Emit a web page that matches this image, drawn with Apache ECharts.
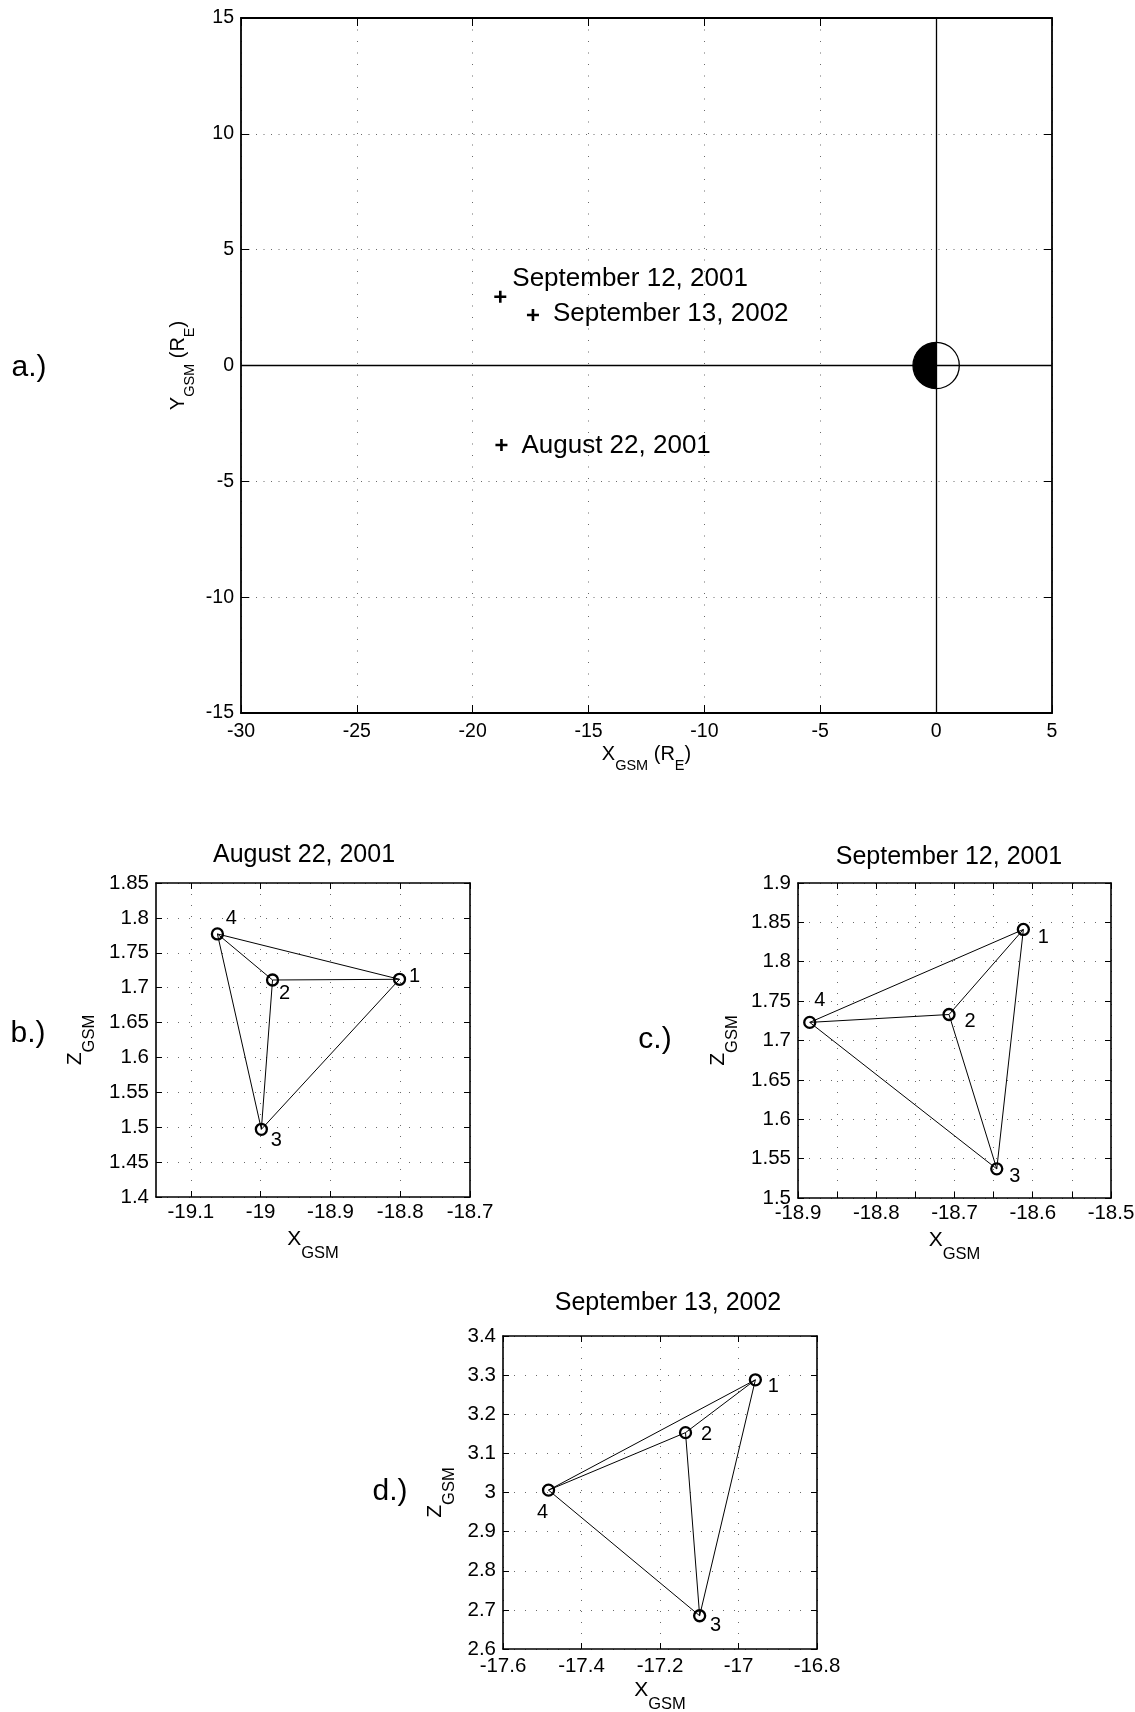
<!DOCTYPE html>
<html>
<head>
<meta charset="utf-8">
<title>Cluster tetrahedron configurations</title>
<script src="https://cdn.jsdelivr.net/npm/echarts@6/dist/echarts.min.js"></script>
<style>
  html, body { margin: 0; padding: 0; background: #fff; }
  #chart { width: 1135px; height: 1712px; }
</style>
</head>
<body>
<div id="chart"></div>
<script>
// ---------- Panel a: event locations in the GSM X-Y plane (R_E) ----------
const eventNames = ['September 12, 2001', 'September 13, 2002', 'August 22, 2001'];
const eventX = [-18.81, -17.40, -18.76];
const eventY = [2.97, 2.18, -3.43];
const earth = [[0, 0, 1]];               // centre x, centre y, radius (R_E)

// ---------- Panels b-d: spacecraft 1-4 in the GSM X-Z plane ----------
const craftLabels = ['1', '2', '3', '4'];
const aug22X = [-18.801, -18.983, -18.999, -19.062];
const aug22Z = [1.712, 1.711, 1.497, 1.777];
const sep12X = [-18.612, -18.707, -18.646, -18.885];
const sep12Z = [1.841, 1.733, 1.537, 1.723];
const sep13X = [-16.957, -17.135, -17.099, -17.484];
const sep13Z = [3.288, 3.153, 2.685, 3.006];
// every pair of spacecraft is joined (tetrahedron edges)
const tetraEdges = [[0, 1], [0, 2], [0, 3], [1, 2], [1, 3], [2, 3]];

// ---------- tick values ----------
const aXTicks = [-30, -25, -20, -15, -10, -5, 0, 5];
const aYTicks = [-15, -10, -5, 0, 5, 10, 15];
const bXTicks = [-19.1, -19, -18.9, -18.8, -18.7];
const bZTicks = [1.4, 1.45, 1.5, 1.55, 1.6, 1.65, 1.7, 1.75, 1.8, 1.85];
const cXTicks = [-18.9, -18.85, -18.8, -18.75, -18.7, -18.65, -18.6, -18.55, -18.5];
const cXLabels = [-18.9, -18.8, -18.7, -18.6, -18.5];
const cZTicks = [1.5, 1.55, 1.6, 1.65, 1.7, 1.75, 1.8, 1.85, 1.9];
const dXTicks = [-17.6, -17.4, -17.2, -17, -16.8];
const dZTicks = [2.6, 2.7, 2.8, 2.9, 3, 3.1, 3.2, 3.3, 3.4];

// ---------- layout & style ----------
const FONT = "'Liberation Sans', Arial, Helvetica, sans-serif";
const fmt = v => String(+(+v).toFixed(2));
const PLUS = 'path://M4.7,0H7.3V4.7H12V7.3H7.3V12H4.7V7.3H0V4.7H4.7Z';

const grids = [
  { left: 241, top: 18, width: 811, height: 695 },    // a
  { left: 156, top: 883, width: 314, height: 314 },   // b
  { left: 798, top: 883, width: 313, height: 315 },   // c
  { left: 503, top: 1336, width: 314, height: 313 }   // d
];

function nameStyle(main, sub, drop) {
  return {
    fontFamily: FONT, color: '#000',
    rich: {
      m: { fontFamily: FONT, color: '#000', fontSize: main, lineHeight: main },
      s: { fontFamily: FONT, color: '#000', fontSize: sub, lineHeight: main, padding: [drop * 2, 0, 0, 0] }
    }
  };
}

function axisPair(kind, gridIndex, cfg) {
  const make = (primary) => {
    const ax = {
      type: 'value', gridIndex: gridIndex,
      min: cfg.min, max: cfg.max,
      position: kind === 'x' ? (primary ? 'bottom' : 'top') : (primary ? 'left' : 'right'),
      axisLine: { show: true, onZero: false, lineStyle: { color: '#000', width: cfg.box } },
      axisTick: { show: true, inside: true, length: cfg.tickLen, customValues: cfg.ticks,
                  lineStyle: { color: '#000', width: 1 } },
      axisLabel: { show: false },
      splitLine: { show: false },
      axisPointer: { show: false }
    };
    if (primary) {
      ax.axisLabel = {
        show: true, margin: cfg.labelMargin, fontSize: cfg.labelSize, fontFamily: FONT,
        color: '#000', formatter: fmt, customValues: cfg.labels || cfg.ticks,
        showMinLabel: true, showMaxLabel: true, hideOverlap: false
      };
      ax.splitLine = { show: true, lineStyle: { color: '#6a6a6a', width: 1, type: cfg.dash } };
      ax.name = cfg.name;
      ax.nameLocation = 'middle';
      ax.nameGap = cfg.nameGap;
      ax.nameMoveOverlap = false;
      ax.nameRotate = kind === 'y' ? 90 : 0;
      ax.nameTextStyle = cfg.nameStyle;
    }
    return ax;
  };
  return [make(true), make(false)];
}

const mainName = nameStyle(20, 14.5, 12);
const subName = nameStyle(21, 16.5, 14);
const xAxes = [].concat(
  axisPair('x', 0, { min: -30, max: 5, ticks: aXTicks, box: 1.8, tickLen: 8, labelMargin: 9, labelSize: 19.5,
    dash: [1, 10.5], name: '{m|X}{s|GSM}{m| (R}{s|E}{m|)}', nameGap: 31, nameStyle: mainName }),
  axisPair('x', 1, { min: -19.15, max: -18.7, ticks: bXTicks, box: 1.6, tickLen: 6, labelMargin: 5, labelSize: 20.5,
    dash: [1, 10], name: '{m|X}{s|GSM}', nameGap: 32, nameStyle: subName }),
  axisPair('x', 2, { min: -18.9, max: -18.5, ticks: cXTicks, labels: cXLabels, box: 1.6, tickLen: 6, labelMargin: 5,
    labelSize: 20.5, dash: [1, 10], name: '{m|X}{s|GSM}', nameGap: 32, nameStyle: subName }),
  axisPair('x', 3, { min: -17.6, max: -16.8, ticks: dXTicks, box: 1.6, tickLen: 6, labelMargin: 7, labelSize: 20.5,
    dash: [1, 10], name: '{m|X}{s|GSM}', nameGap: 31, nameStyle: subName })
);
const yAxes = [].concat(
  axisPair('y', 0, { min: -15, max: 15, ticks: aYTicks, box: 1.8, tickLen: 8, labelMargin: 7, labelSize: 19.5,
    dash: [1, 6.5], name: '{m|Y}{s|GSM}{m| (R}{s|E}{m|)}', nameGap: 53, nameStyle: mainName }),
  axisPair('y', 1, { min: 1.4, max: 1.85, ticks: bZTicks, box: 1.6, tickLen: 6, labelMargin: 7, labelSize: 20.5,
    dash: [1, 10], name: '{m|Z}{s|GSM}', nameGap: 70, nameStyle: subName }),
  axisPair('y', 2, { min: 1.5, max: 1.9, ticks: cZTicks, box: 1.6, tickLen: 6, labelMargin: 7, labelSize: 20.5,
    dash: [1, 10], name: '{m|Z}{s|GSM}', nameGap: 69, nameStyle: subName }),
  axisPair('y', 3, { min: 2.6, max: 3.4, ticks: dZTicks, box: 1.6, tickLen: 6, labelMargin: 7, labelSize: 20.5,
    dash: [1, 10], name: '{m|Z}{s|GSM}', nameGap: 57, nameStyle: subName })
);

// label placement (pixels from each marker centre)
const eventLabelOffset = [[-8, -18], [0, -1], [0, 1]];
const craftLabelOffset = [
  [[15, -3], [12, 13], [15, 11], [14, -15]],     // b
  [[20, 8], [21, 7], [18, 8], [10, -22]],        // c
  [[18, 7], [21, 2], [16, 10], [-6, 22]]         // d
];

function craftSeries(g, xs, zs, offsets) {
  const ai = 2 * g;
  return [
    {
      type: 'lines', coordinateSystem: 'cartesian2d', xAxisIndex: ai, yAxisIndex: ai,
      silent: true, z: 2,
      lineStyle: { color: '#000', width: 1, opacity: 1, curveness: 0 },
      data: tetraEdges.map(([i, j]) => ({ coords: [[xs[i], zs[i]], [xs[j], zs[j]]] }))
    },
    {
      type: 'scatter', xAxisIndex: ai, yAxisIndex: ai, z: 3, silent: true,
      symbol: 'circle', symbolSize: 11,
      itemStyle: { color: 'rgba(0,0,0,0)', borderColor: '#000', borderWidth: 2.3, opacity: 1 },
      label: { show: true, position: 'inside', formatter: '{b}', fontSize: 20, fontFamily: FONT, color: '#000' },
      emphasis: { disabled: true },
      data: craftLabels.map((n, i) => ({ name: n, value: [xs[i], zs[i]], label: { offset: offsets[i] } }))
    }
  ];
}

const panelTags = [
  { text: 'a.)', x: 29, y: 368 },
  { text: 'b.)', x: 28, y: 1034 },
  { text: 'c.)', x: 655, y: 1040 },
  { text: 'd.)', x: 390, y: 1492 }
];
const panelTitles = [
  { text: eventNames[2], x: 304, y: 855 },
  { text: eventNames[0], x: 949, y: 857 },
  { text: eventNames[1], x: 668, y: 1303 }
];

const option = {
  animation: false,
  backgroundColor: '#fff',
  grid: grids.map(g => Object.assign({ containLabel: false, outerBoundsMode: 'none' }, g)),
  xAxis: xAxes,
  yAxis: yAxes,
  graphic: [].concat(
    panelTags.map(p => ({
      type: 'text', x: p.x, y: p.y, silent: true,
      style: { text: p.text, font: "30px 'Liberation Sans', Arial, sans-serif", fill: '#000',
               align: 'center', verticalAlign: 'middle' }
    })),
    panelTitles.map(p => ({
      type: 'text', x: p.x, y: p.y, silent: true,
      style: { text: p.text, font: "25px 'Liberation Sans', Arial, sans-serif", fill: '#000',
               align: 'center', verticalAlign: 'middle' }
    }))
  ),
  series: [
    // Earth: night side filled
    {
      type: 'custom', xAxisIndex: 0, yAxisIndex: 0, z: 1, silent: true,
      data: earth,
      renderItem: (params, api) => {
        const c = api.coord([api.value(0), api.value(1)]);
        const s = api.size([api.value(2), api.value(2)]);
        const r = (s[0] + s[1]) / 2;
        return {
          type: 'group',
          children: [
            { type: 'circle', shape: { cx: c[0], cy: c[1], r: r }, style: { fill: '#fff' } },
            { type: 'sector', shape: { cx: c[0], cy: c[1], r0: 0, r: r,
                startAngle: Math.PI / 2, endAngle: Math.PI * 1.5, clockwise: true },
              style: { fill: '#000' } },
            { type: 'circle', shape: { cx: c[0], cy: c[1], r: r },
              style: { fill: 'none', stroke: '#000', lineWidth: 1.3 } }
          ]
        };
      }
    },
    // event markers with the X = 0 and Y = 0 reference lines
    {
      type: 'scatter', xAxisIndex: 0, yAxisIndex: 0, z: 3, silent: true,
      symbol: PLUS, symbolSize: 12,
      itemStyle: { color: '#000', opacity: 1 },
      emphasis: { disabled: true },
      label: { show: true, position: 'right', distance: 14, formatter: '{b}',
               fontSize: 26, fontFamily: FONT, color: '#000' },
      data: eventNames.map((n, i) => ({ name: n, value: [eventX[i], eventY[i]],
                                        label: { offset: eventLabelOffset[i] } })),
      markLine: {
        silent: true, symbol: 'none', animation: false,
        label: { show: false },
        lineStyle: { color: '#000', width: 1.3, type: 'solid' },
        emphasis: { disabled: true },
        data: [{ xAxis: 0 }, { yAxis: 0 }]
      }
    }
  ].concat(
    craftSeries(1, aug22X, aug22Z, craftLabelOffset[0]),
    craftSeries(2, sep12X, sep12Z, craftLabelOffset[1]),
    craftSeries(3, sep13X, sep13Z, craftLabelOffset[2])
  )
};

const chart = echarts.init(document.getElementById('chart'), null, { renderer: 'canvas' });
chart.setOption(option);
</script>
</body>
</html>
